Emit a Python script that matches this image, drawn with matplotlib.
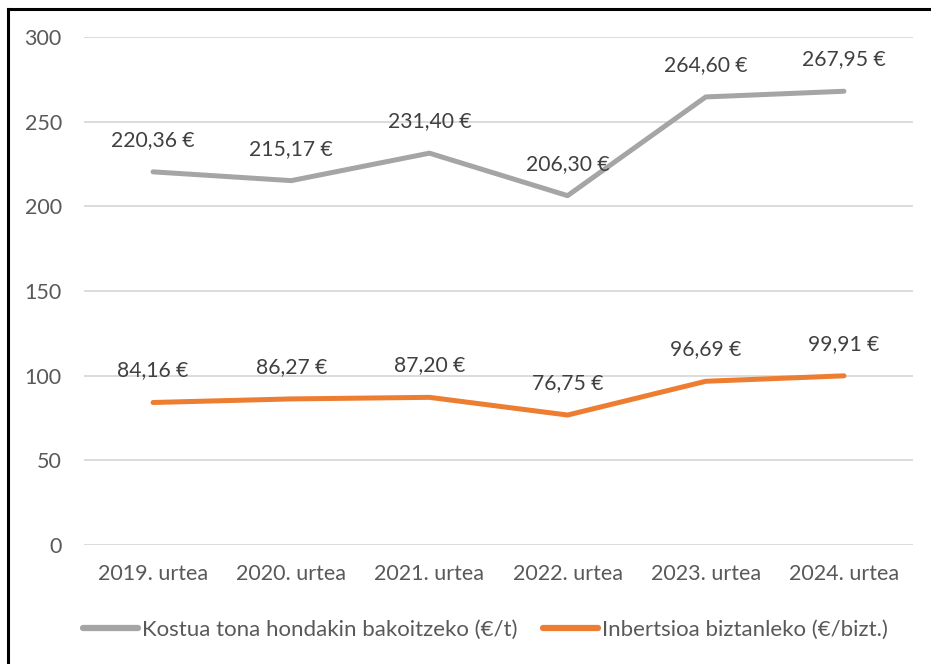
import matplotlib.pyplot as plt
from matplotlib.lines import Line2D

years = ["2019. urtea", "2020. urtea", "2021. urtea", "2022. urtea", "2023. urtea", "2024. urtea"]
kostua = [220.36, 215.17, 231.40, 206.30, 264.60, 267.95]
inbertsioa = [84.16, 86.27, 87.20, 76.75, 96.69, 99.91]
kostua_label = "Kostua tona hondakin bakoitzeko (€/t)"
inbertsioa_label = "Inbertsioa biztanleko (€/bizt.)"

GRAY = "#A5A5A5"
ORANGE = "#ED7D31"
TEXT = "#595959"

plt.rcParams["font.family"] = ["Lato", "DejaVu Sans"]

fig = plt.figure(figsize=(9.31, 6.64), dpi=100)
ax = fig.add_axes([0.0902, 0.1792, 0.8905, 0.7651])

x = range(len(years))
ax.plot(x, kostua, color=GRAY, lw=3.6, solid_capstyle="round", label=kostua_label, zorder=3)
ax.plot(x, inbertsioa, color=ORANGE, lw=3.6, solid_capstyle="round", label=inbertsioa_label, zorder=3)

def fmt(v):
    return f"{v:.2f}".replace(".", ",") + " €"

for series in (kostua, inbertsioa):
    for i, v in enumerate(series):
        ax.annotate(fmt(v), (i, v), xytext=(0, 23), textcoords="offset points",
                    ha="center", va="center", fontsize=15.2, color="#404040", zorder=4)

ax.set_xlim(-0.5, len(years) - 0.5)
ax.set_ylim(0, 300)
ax.set_yticks(range(0, 301, 50))
ax.set_xticks(list(x))
ax.set_xticklabels(years)
ax.grid(axis="y", color="#D9D9D9", lw=1.3)
ax.set_axisbelow(True)
for s in ax.spines.values():
    s.set_visible(False)
ax.tick_params(length=0, labelsize=15.5, labelcolor=TEXT)
ax.tick_params(axis="y", pad=16)
ax.tick_params(axis="x", pad=14)

handles = [Line2D([], [], color=GRAY, lw=4.5, solid_capstyle="round"),
           Line2D([], [], color=ORANGE, lw=4.5, solid_capstyle="round")]
fig.legend(handles, [kostua_label, inbertsioa_label], loc="center", bbox_to_anchor=(0.521, 0.051),
           ncol=2, frameon=False, fontsize=16, labelcolor=TEXT, handlelength=2.5,
           handletextpad=0.15, columnspacing=1.15)

# frame of the original screenshot (left and top edges only)
fig.add_artist(Line2D([0.0085, 0.0085], [0, 0.987], color="black", lw=2.2, transform=fig.transFigure))
fig.add_artist(Line2D([0.0085, 1.0], [0.987, 0.987], color="black", lw=2.2, transform=fig.transFigure))

fig.savefig("out.png", dpi=100)
